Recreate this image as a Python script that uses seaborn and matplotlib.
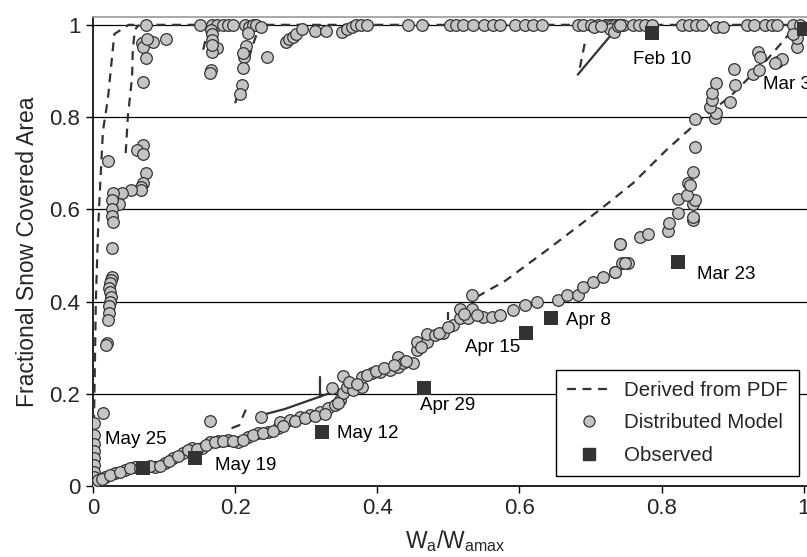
import numpy as np
import pandas as pd
import matplotlib
matplotlib.use("Agg")
import matplotlib.pyplot as plt
import seaborn as sns
from matplotlib.lines import Line2D

sns.set_style("white")
plt.rcParams['font.family'] = ['Liberation Sans', 'DejaVu Sans']

# Distributed model: points along the top (SCA ~ 1)
top_x = [0.074, 0.15, 0.167, 0.175, 0.183, 0.19, 0.197, 0.214, 0.22, 0.225, 0.23, 0.236,
         0.272, 0.276, 0.281, 0.286, 0.294, 0.312, 0.328, 0.35, 0.357, 0.364, 0.37, 0.377,
         0.385, 0.443, 0.463, 0.502, 0.51, 0.52, 0.535, 0.55, 0.563, 0.572, 0.594, 0.608,
         0.619, 0.631, 0.682, 0.69, 0.7, 0.71, 0.72, 0.726, 0.73, 0.735, 0.74, 0.745, 0.728,
         0.705, 0.715, 0.733, 0.738, 0.742,
         0.76, 0.768, 0.777, 0.786, 0.828, 0.838, 0.848, 0.857, 0.877, 0.886, 0.92, 0.93,
         0.945, 0.955, 0.962, 0.985, 0.995]
top_y = [1.0, 1.0, 1.0, 1.0, 1.0, 1.0, 1.0, 1.0, 0.995, 1.0, 1.0, 0.995,
         0.963, 0.97, 0.974, 0.98, 0.99, 0.987, 0.987, 0.985, 0.99, 0.995, 1.0, 1.0,
         1.0, 1.0, 1.0, 1.0, 1.0, 1.0, 1.0, 1.0, 1.0, 1.0, 1.0, 1.0,
         1.0, 1.0, 1.0, 1.0, 1.0, 1.0, 1.0, 1.0, 1.0, 1.0, 1.0, 1.0, 0.99,
         0.995, 0.997, 0.985, 0.997, 1.0,
         1.0, 1.0, 1.0, 1.0, 1.0, 1.0, 1.0, 1.0, 0.995, 0.995, 1.0, 1.0,
         1.0, 1.0, 1.0, 1.0, 1.0]

# Distributed model: vertical clusters near the left edge and at x ~ 0.17 / 0.21
left_x = [0.069, 0.071, 0.084, 0.103, 0.074, 0.07, 0.076,
          0.07, 0.062, 0.07, 0.074, 0.07, 0.067, 0.068, 0.053, 0.041, 0.028, 0.037, 0.021,
          0.027, 0.027, 0.027, 0.028, 0.027, 0.027, 0.025, 0.024, 0.023, 0.024, 0.025,
          0.024, 0.023, 0.022, 0.021, 0.019, 0.018, 0.014,
          0.002, 0.002, 0.001, 0.001, 0.002, 0.001, 0.002, 0.001, 0.0,
          0.166, 0.167, 0.167, 0.174, 0.167, 0.166, 0.165, 0.168,
          0.218, 0.215, 0.212, 0.211, 0.209, 0.207, 0.245, 0.211]
left_y = [0.961, 0.953, 0.963, 0.97, 0.928, 0.877, 0.969,
          0.74, 0.729, 0.72, 0.679, 0.657, 0.649, 0.642, 0.642, 0.635, 0.635, 0.612, 0.705,
          0.62, 0.6, 0.585, 0.573, 0.516, 0.453, 0.447, 0.44, 0.43, 0.42, 0.41,
          0.4, 0.39, 0.375, 0.36, 0.31, 0.305, 0.158,
          0.137, 0.11, 0.09, 0.075, 0.06, 0.045, 0.03, 0.02, 0.0,
          0.989, 0.98, 0.967, 0.95, 0.941, 0.902, 0.896, 0.957,
          0.983, 0.954, 0.93, 0.907, 0.87, 0.85, 0.93, 0.94]

# Distributed model: the lower melt-out curve
low_x = [0.007, 0.017, 0.031, 0.045, 0.059, 0.073, 0.087, 0.101, 0.113, 0.127, 0.139,
         0.153, 0.165, 0.176, 0.19, 0.204, 0.218, 0.232, 0.246, 0.26, 0.236, 0.165,
         0.263, 0.277, 0.291, 0.305, 0.319, 0.331, 0.34, 0.347, 0.352, 0.357, 0.336,
         0.352, 0.366, 0.378, 0.378, 0.392, 0.404, 0.418, 0.429, 0.429, 0.436, 0.45,
         0.456, 0.456, 0.47, 0.47, 0.481, 0.492, 0.506, 0.516, 0.516, 0.527, 0.533,
         0.533, 0.549, 0.561, 0.572, 0.591, 0.608, 0.624, 0.654, 0.667, 0.682, 0.689,
         0.703, 0.717, 0.734, 0.744, 0.752, 0.742, 0.735, 0.748,
         0.012, 0.024, 0.038, 0.052, 0.066, 0.08, 0.094, 0.107, 0.12, 0.133, 0.146,
         0.159, 0.171, 0.183, 0.197, 0.211, 0.225, 0.239, 0.253, 0.268, 0.284, 0.298,
         0.312, 0.326, 0.344, 0.36, 0.372, 0.385, 0.398, 0.41, 0.423, 0.44, 0.462,
         0.487, 0.5, 0.522, 0.54]
low_y = [0.013, 0.02, 0.028, 0.035, 0.041, 0.041, 0.041, 0.05, 0.061, 0.072, 0.082,
         0.082, 0.095, 0.097, 0.1, 0.095, 0.106, 0.115, 0.117, 0.126, 0.15, 0.141,
         0.139, 0.143, 0.15, 0.154, 0.16, 0.169, 0.176, 0.187, 0.202, 0.215, 0.213,
         0.239, 0.208, 0.215, 0.236, 0.245, 0.247, 0.252, 0.258, 0.28, 0.267, 0.267,
         0.295, 0.312, 0.312, 0.33, 0.328, 0.332, 0.349, 0.364, 0.384, 0.364, 0.384,
         0.414, 0.367, 0.367, 0.371, 0.382, 0.393, 0.399, 0.403, 0.414, 0.414, 0.432,
         0.443, 0.453, 0.464, 0.483, 0.483, 0.525, 0.464, 0.484,
         0.016, 0.024, 0.031, 0.038, 0.04, 0.043, 0.044, 0.055, 0.066, 0.077, 0.08,
         0.088, 0.096, 0.098, 0.097, 0.1, 0.11, 0.116, 0.12, 0.13, 0.14, 0.147,
         0.152, 0.157, 0.18, 0.226, 0.222, 0.24, 0.25, 0.255, 0.262, 0.272, 0.302,
         0.331, 0.345, 0.372, 0.37]

# Distributed model: upper right cluster
right_x = [0.741, 0.769, 0.781, 0.809, 0.811, 0.823, 0.844, 0.844, 0.844, 0.847, 0.823,
           0.835, 0.837, 0.84, 0.844, 0.847, 0.847, 0.875, 0.877, 0.868, 0.871, 0.871,
           0.877, 0.896, 0.903, 0.902, 0.928, 0.937, 0.935, 0.939, 0.963, 0.969, 0.959,
           0.99, 0.99, 0.985]
right_y = [0.525, 0.54, 0.547, 0.553, 0.571, 0.592, 0.577, 0.584, 0.612, 0.62, 0.622,
           0.631, 0.657, 0.652, 0.681, 0.735, 0.796, 0.798, 0.809, 0.822, 0.837, 0.852,
           0.874, 0.833, 0.87, 0.904, 0.893, 0.902, 0.941, 0.93, 0.92, 0.926, 0.917,
           0.952, 0.972, 0.98]

# Derived from PDF (dashed) segments
pdf1_x = [0.0, 0.002, 0.004, 0.007, 0.01, 0.014, 0.021, 0.03, 0.05, 1.0]
pdf1_y = [0.0, 0.2, 0.4, 0.55, 0.65, 0.77, 0.84, 0.98, 1.0, 1.0]
pdf2_x = [0.046, 0.049, 0.055, 0.056, 0.059, 0.065]
pdf2_y = [0.722, 0.8, 0.887, 0.946, 0.99, 1.0]
pdf3_x = [0.155, 0.16, 0.165]
pdf3_y = [0.946, 0.978, 1.0]
pdf4_x = [0.2, 0.21, 0.225, 0.235]
pdf4_y = [0.83, 0.88, 0.957, 1.0]
pdf5_x = [0.685, 0.692]
pdf5_y = [0.907, 0.961]
pdf6_x = [0.54, 0.58, 0.639, 0.713, 0.76, 0.807, 0.854, 0.896, 0.948, 0.985, 1.0]
pdf6_y = [0.41, 0.445, 0.512, 0.599, 0.657, 0.729, 0.794, 0.844, 0.924, 0.99, 1.0]
pdf7_x = [0.499, 0.499]
pdf7_y = [0.36, 0.377]
pdf8_x = [0.21, 0.218]
pdf8_y = [0.148, 0.176]

# Solid connector segments
solid1_x = [0.682, 0.737]
solid1_y = [0.892, 0.993]
solid2_x = [0.238, 0.27, 0.338]
solid2_y = [0.154, 0.167, 0.204]
solid3_x = [0.196, 0.206]
solid3_y = [0.126, 0.132]
solid4_x = [0.319, 0.319]
solid4_y = [0.193, 0.236]

# Observed
obs_labels = ['Feb 10', 'Mar 3', 'Mar 23', 'Apr 8', 'Apr 15', 'Apr 29', 'May 12', 'May 19', 'May 25']
obs_x = [0.786, 1.0, 0.823, 0.644, 0.609, 0.466, 0.322, 0.143, 0.07]
obs_y = [0.983, 0.99, 0.486, 0.364, 0.332, 0.212, 0.117, 0.061, 0.04]
label_offsets = [(-13.7, -19.4), (-29.5, -39.6), (13.7, -9.4), (10.8, -1.4), (-44, -10.8),
                 (-2.9, -12.2), (10.8, -0.7), (15, -5.8), (-27.4, 20.2)]

model = pd.DataFrame({'x': top_x + left_x + low_x + right_x,
                      'y': top_y + left_y + low_y + right_y})
obs = pd.DataFrame({'x': obs_x, 'y': obs_y, 'label': obs_labels})

dark = '#333333'
fig = plt.figure(figsize=(8.07, 5.57), dpi=100)
ax = fig.add_axes([93 / 807, 71 / 557, 725 / 807, 469 / 557])

for px, py in [(pdf1_x, pdf1_y), (pdf2_x, pdf2_y), (pdf3_x, pdf3_y), (pdf4_x, pdf4_y),
               (pdf5_x, pdf5_y), (pdf6_x, pdf6_y), (pdf7_x, pdf7_y), (pdf8_x, pdf8_y)]:
    ax.plot(px, py, color=dark, lw=1.6, ls=(0, (4, 3)), zorder=3)
for px, py in [(solid1_x, solid1_y), (solid2_x, solid2_y), (solid3_x, solid3_y), (solid4_x, solid4_y)]:
    ax.plot(px, py, color=dark, lw=1.6, zorder=3)

sns.scatterplot(data=model, x='x', y='y', ax=ax, s=70, color='#c4c4c4',
                edgecolor=dark, linewidth=0.9, zorder=4, legend=False)
sns.scatterplot(data=obs, x='x', y='y', ax=ax, marker='s', s=110, color=dark,
                edgecolor=dark, linewidth=0, zorder=5, legend=False)

for (lx, ly, lab), off in zip(zip(obs_x, obs_y, obs_labels), label_offsets):
    ax.annotate(lab, (lx, ly), xytext=off, textcoords='offset points',
                ha='left', va='center', fontsize=13.5, color='black', zorder=6)

ax.set_xlim(0, 1.02)
ax.set_ylim(0, 1.017)
ax.set_xticks([0, 0.2, 0.4, 0.6, 0.8, 1.0])
ax.set_xticklabels(['0', '0.2', '0.4', '0.6', '0.8', '1'])
ax.set_yticks([0, 0.2, 0.4, 0.6, 0.8, 1.0])
ax.set_yticklabels(['0', '0.2', '0.4', '0.6', '0.8', '1'])
ax.tick_params(axis='both', direction='out', length=5, width=1, color='black',
               labelsize=16, bottom=True, left=True, pad=4)
ax.grid(axis='y', color='black', lw=0.9, zorder=1)
ax.set_axisbelow(True)
for side in ['left', 'bottom']:
    ax.spines[side].set_color('black')
    ax.spines[side].set_linewidth(1.2)
ax.spines['top'].set_color('#999999')
ax.spines['top'].set_linewidth(1.2)
ax.spines['right'].set_visible(False)

ax.set_xlabel(r'W$_\mathregular{a}$/W$_\mathregular{amax}$', fontsize=16.5, labelpad=6)
ax.set_ylabel('Fractional Snow Covered Area', fontsize=16.5, labelpad=8)

handles = [Line2D([], [], color=dark, lw=1.6, ls=(0, (4, 3))),
           Line2D([], [], marker='o', ls='none', markersize=8, markerfacecolor='#c4c4c4',
                  markeredgecolor=dark, markeredgewidth=0.9),
           Line2D([], [], marker='s', ls='none', markersize=9, color=dark)]
leg = ax.legend(handles, ['Derived from PDF', 'Distributed Model', 'Observed'],
                loc='lower left', bbox_to_anchor=(0.638, 0.021), borderaxespad=0,
                fontsize=14.8, frameon=True, fancybox=False, edgecolor='black', framealpha=1,
                handlelength=2.2, handletextpad=0.6, borderpad=0.55, labelspacing=0.65)
leg.get_frame().set_linewidth(1.0)
leg.set_zorder(7)

fig.savefig('out.png', dpi=100)
